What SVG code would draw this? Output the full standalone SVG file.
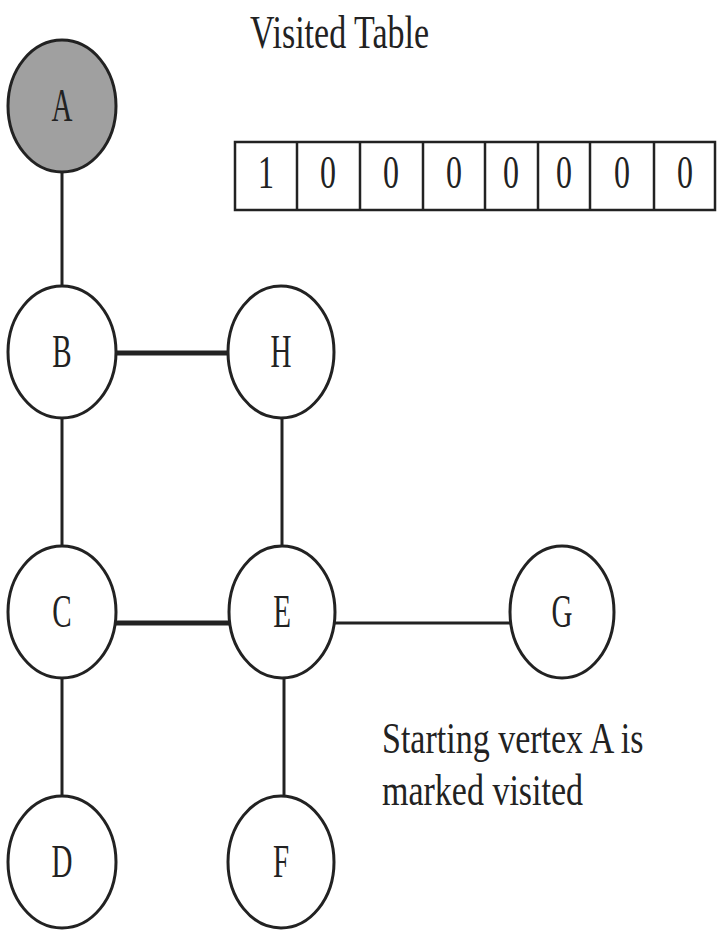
<svg xmlns="http://www.w3.org/2000/svg" width="717" height="932" viewBox="0 0 717 932">
<style>
.node{fill:#fff;stroke:#222;stroke-width:3}
.visited{fill:#a0a0a0}
.lbl{font-family:"Liberation Serif",serif;font-size:29px;fill:#222;text-anchor:middle}
.edge{stroke:#222;stroke-width:3;fill:none}
.thick{stroke-width:5}
.cell{fill:#fff;stroke:#222;stroke-width:2.5}
.digit{font-family:"Liberation Serif",serif;font-size:32px;fill:#222;text-anchor:middle}
.cap{font-family:"Liberation Serif",serif;font-size:34px;fill:#222}
</style>
<rect width="717" height="932" fill="#fff"/>
<g id="connectors">
<line class="edge" x1="62" y1="172" x2="62" y2="287"/>
<line class="edge thick" x1="115" y1="353" x2="229" y2="353"/>
<line class="edge" x1="62" y1="418" x2="62" y2="547"/>
<line class="edge" x1="282" y1="418" x2="282" y2="547"/>
<line class="edge thick" x1="115" y1="623" x2="230" y2="623"/>
<line class="edge" x1="334" y1="623" x2="510" y2="623"/>
<line class="edge" x1="62" y1="677" x2="62" y2="797"/>
<line class="edge" x1="284" y1="677" x2="284" y2="797"/>
</g>
<g id="node-A"><ellipse class="node visited" cx="62" cy="106" rx="54" ry="66"/><text class="lbl" transform="translate(62,121) scale(1,1.6)">A</text></g>
<g id="node-B"><ellipse class="node" cx="62" cy="352" rx="54" ry="66"/><text class="lbl" transform="translate(62,367) scale(1,1.6)">B</text></g>
<g id="node-H"><ellipse class="node" cx="281" cy="352" rx="53" ry="66"/><text class="lbl" transform="translate(281,367) scale(1,1.6)">H</text></g>
<g id="node-C"><ellipse class="node" cx="62" cy="612" rx="54" ry="66"/><text class="lbl" transform="translate(62,627) scale(1,1.6)">C</text></g>
<g id="node-E"><ellipse class="node" cx="282" cy="612" rx="53" ry="66"/><text class="lbl" transform="translate(282,627) scale(1,1.6)">E</text></g>
<g id="node-G"><ellipse class="node" cx="562" cy="612" rx="52" ry="66"/><text class="lbl" transform="translate(562,627) scale(1,1.6)">G</text></g>
<g id="node-D"><ellipse class="node" cx="62" cy="862" rx="54" ry="66"/><text class="lbl" transform="translate(62,877) scale(1,1.6)">D</text></g>
<g id="node-F"><ellipse class="node" cx="281" cy="862" rx="53" ry="66"/><text class="lbl" transform="translate(281,877) scale(1,1.6)">F</text></g>
<g id="visited-table">
<text class="cap" transform="translate(250,48) scale(1,1.35)">Visited Table</text>
<rect class="cell" x="235" y="142" width="480" height="68"/>
<line class="cell" x1="297" y1="142" x2="297" y2="210"/>
<line class="cell" x1="360" y1="142" x2="360" y2="210"/>
<line class="cell" x1="423" y1="142" x2="423" y2="210"/>
<line class="cell" x1="485" y1="142" x2="485" y2="210"/>
<line class="cell" x1="538" y1="142" x2="538" y2="210"/>
<line class="cell" x1="590" y1="142" x2="590" y2="210"/>
<line class="cell" x1="654" y1="142" x2="654" y2="210"/>
<text class="digit" transform="translate(266,188) scale(1,1.45)">1</text>
<text class="digit" transform="translate(328,188) scale(1,1.45)">0</text>
<text class="digit" transform="translate(391,188) scale(1,1.45)">0</text>
<text class="digit" transform="translate(454,188) scale(1,1.45)">0</text>
<text class="digit" transform="translate(511,188) scale(1,1.45)">0</text>
<text class="digit" transform="translate(564,188) scale(1,1.45)">0</text>
<text class="digit" transform="translate(622,188) scale(1,1.45)">0</text>
<text class="digit" transform="translate(685,188) scale(1,1.45)">0</text>
</g>
<g id="caption">
<text class="cap" transform="translate(382,753) scale(1,1.3)">Starting vertex A is</text>
<text class="cap" transform="translate(382,805) scale(1,1.3)">marked visited</text>
</g>
</svg>
